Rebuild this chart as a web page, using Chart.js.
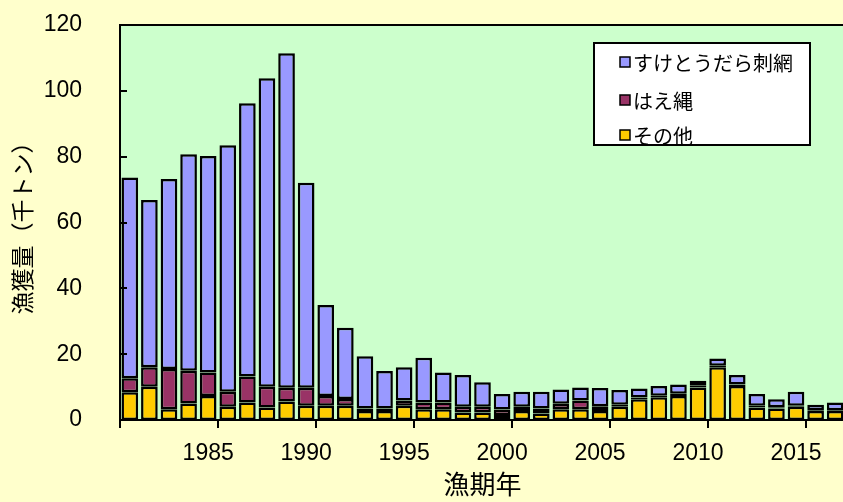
<!DOCTYPE html>
<html>
<head>
<meta charset="utf-8">
<script src="https://cdn.jsdelivr.net/npm/chart.js@4.4.1/dist/chart.umd.min.js"></script>
<style>
  html, body { margin: 0; padding: 0; overflow: hidden; background: #FFFFCC; }
  canvas { display: block; }
</style>
</head>
<body>
<canvas id="catchChart" width="850" height="502"></canvas>
<script>
// 漁期年
const years = [];
for (let y = 1981; y <= 2017; y++) years.push(String(y));

// 千トン
const gillnet = [61.0, 50.8, 57.7, 65.7, 65.8, 74.9, 83.0, 93.7, 101.6, 62.3,
  27.6, 21.6, 15.9, 11.4, 10.1, 13.6, 9.1, 9.7, 7.5, 4.7,
  4.6, 5.1, 4.4, 4.0, 5.5, 4.5, 2.8, 2.9, 2.8, 1.5,
  2.2, 2.9, 3.6, 2.4, 4.3, 1.6, 2.3];
const longline = [4.3, 5.9, 12.2, 10.0, 7.1, 4.6, 7.9, 6.3, 4.2, 5.5,
  3.0, 2.1, 0.8, 0.8, 1.6, 2.0, 2.0, 1.7, 1.7, 1.7,
  1.3, 1.5, 1.6, 2.6, 1.5, 0.6, 0.5, 0.5, 0.7, 0.5,
  0.5, 0.5, 0.5, 0.4, 0.3, 0.3, 0.3];
const others = [8.4, 10.1, 3.3, 5.0, 7.3, 4.0, 5.3, 3.8, 5.6, 4.3,
  4.3, 4.3, 2.7, 2.7, 4.3, 3.3, 3.3, 2.3, 2.3, 1.5,
  2.7, 2.0, 3.3, 3.3, 2.7, 4.0, 6.3, 6.9, 7.3, 9.9,
  16.0, 10.3, 3.8, 3.5, 4.0, 2.7, 2.7];

const yTicks = [0, 20, 40, 60, 80, 100, 120];

const seriesNames = ['すけとうだら刺網', 'はえ縄', 'その他'];
const seriesColors = ['#9999FF', '#993366', '#FFCC00'];

const jpFont = '"Noto Sans CJK JP", "Noto Sans", sans-serif';
const numFont = '"Liberation Sans", Arial, sans-serif';

// plot background, frame, inner y ticks and the legend box
const framePlugin = {
  id: 'frame',
  beforeDraw(chart) {
    const { ctx, chartArea: a } = chart;
    ctx.save();
    ctx.fillStyle = '#FFFFCC';
    ctx.fillRect(0, 0, chart.width, chart.height);
    ctx.fillStyle = '#CCFFCC';
    ctx.fillRect(a.left, a.top, a.right - a.left, a.bottom - a.top);
    ctx.restore();
  },
  afterDraw(chart) {
    const { ctx, chartArea: a } = chart;
    const yScale = chart.scales.y;
    ctx.save();
    ctx.strokeStyle = '#000';
    ctx.lineWidth = 2;
    ctx.strokeRect(a.left, a.top, a.right - a.left, a.bottom - a.top);
    ctx.beginPath();
    yTicks.forEach(v => {
      const py = Math.round(yScale.getPixelForValue(v));
      ctx.moveTo(a.left, py);
      ctx.lineTo(a.left + 7, py);
    });
    ctx.stroke();

    // legend
    const lx = 594, ly = 43, lw = 216, lh = 102;
    ctx.fillStyle = '#FFFFFF';
    ctx.fillRect(lx, ly, lw, lh);
    ctx.lineWidth = 2;
    ctx.strokeRect(lx, ly, lw, lh);
    ctx.font = '20px ' + jpFont;
    ctx.textBaseline = 'middle';
    const rows = [62, 100, 135];
    seriesNames.forEach((name, i) => {
      ctx.fillStyle = seriesColors[i];
      ctx.fillRect(620, rows[i] - 5, 10, 10);
      ctx.lineWidth = 1.5;
      ctx.strokeRect(620, rows[i] - 5, 10, 10);
      ctx.fillStyle = '#000';
      ctx.fillText(name, 633, rows[i] + 1);
    });
    ctx.restore();
  }
};

const ctx = document.getElementById('catchChart').getContext('2d');
new Chart(ctx, {
  type: 'bar',
  data: {
    labels: years,
    datasets: [
      { label: seriesNames[2], data: others, backgroundColor: seriesColors[2] },
      { label: seriesNames[1], data: longline, backgroundColor: seriesColors[1] },
      { label: seriesNames[0], data: gillnet, backgroundColor: seriesColors[0] }
    ].map(d => Object.assign(d, {
      borderColor: '#000',
      borderWidth: 2.5,
      borderSkipped: false,
      categoryPercentage: 1.0,
      barPercentage: 0.85
    }))
  },
  options: {
    responsive: false,
    animation: false,
    devicePixelRatio: 1,
    layout: { padding: { top: 25, right: 5, left: 0, bottom: 0 } },
    plugins: {
      legend: { display: false },
      tooltip: { enabled: false }
    },
    scales: {
      x: {
        stacked: true,
        offset: true,
        afterFit: s => { s.height = 82; s.paddingLeft = 0; s.paddingRight = 0; },
        grid: {
          offset: true,
          drawOnChartArea: false,
          drawTicks: true,
          tickLength: 8,
          lineWidth: 2,
          color: c => (c.index !== undefined && c.index % 5 === 0) ? '#000' : 'rgba(0,0,0,0)'
        },
        border: { display: false },
        ticks: {
          autoSkip: false,
          maxRotation: 0,
          padding: 12,
          color: '#000',
          font: { family: numFont, size: 23 },
          callback: function (val, i) {
            const y = Number(years[i]);
            return y % 5 === 0 ? years[i] : '';
          }
        },
        title: {
          display: true,
          text: '漁期年',
          color: '#000',
          padding: { top: 0, bottom: 2 },
          font: { family: jpFont, size: 26 }
        }
      },
      y: {
        stacked: true,
        min: 0,
        max: 120,
        afterFit: s => { s.width = 120; s.paddingTop = 0; s.paddingBottom = 0; },
        grid: { display: false },
        border: { display: false },
        ticks: {
          stepSize: 20,
          padding: 30,
          color: '#000',
          font: { family: numFont, size: 23 }
        },
        title: {
          display: true,
          text: '漁獲量（千トン）',
          color: '#000',
          padding: { top: 8, bottom: 0 },
          font: { family: jpFont, size: 23 }
        }
      }
    }
  },
  plugins: [framePlugin]
});
</script>
</body>
</html>
